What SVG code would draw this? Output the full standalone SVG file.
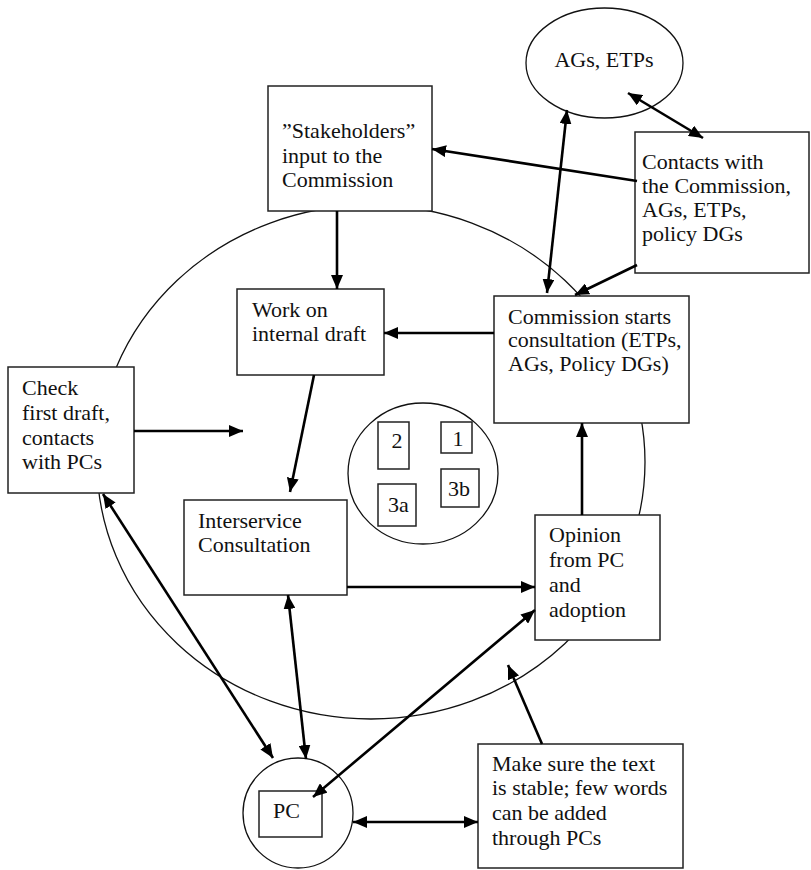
<svg xmlns="http://www.w3.org/2000/svg" width="811" height="870" viewBox="0 0 811 870">
<defs>
<style>
.box{fill:#fff;stroke:#222;stroke-width:1.5}
.ell{fill:none;stroke:#111;stroke-width:1.3}
.ellw{fill:#fff;stroke:#111;stroke-width:1.3}
.t{font-family:"Liberation Serif","Times New Roman",serif;font-size:22px;fill:#111}
.c{fill:none;stroke:#000;stroke-width:2.6}
.e{marker-end:url(#ah)}
.b{marker-start:url(#ah);marker-end:url(#ah)}
</style>
<marker id="ah" markerUnits="userSpaceOnUse" viewBox="0 0 14 12" refX="14" refY="6" markerWidth="14" markerHeight="12" orient="auto-start-reverse">
<path d="M0,0 L14,6 L0,12 Z" fill="#000"/>
</marker>
</defs>
<rect width="811" height="870" fill="#fff"/>
<ellipse id="cycle" class="ell" cx="371" cy="462" rx="274" ry="257"/>
<g id="ags"><ellipse class="ellw" cx="604.5" cy="63" rx="78.5" ry="55"/><text class="t" x="604" y="67" text-anchor="middle">AGs, ETPs</text></g>
<g id="stakeholders"><rect class="box" x="268" y="86" width="164" height="125"/><text class="t" x="282" y="138">”Stakeholders”</text><text class="t" x="282" y="163">input to the</text><text class="t" x="282" y="187">Commission</text></g>
<g id="contacts"><rect class="box" x="635" y="132" width="174" height="141"/><text class="t" x="642" y="169">Contacts with</text><text class="t" x="642" y="193">the Commission,</text><text class="t" x="642" y="217">AGs, ETPs,</text><text class="t" x="642" y="241">policy DGs</text></g>
<g id="work"><rect class="box" x="237" y="289" width="147" height="86"/><text class="t" x="252" y="317">Work on</text><text class="t" x="252" y="341">internal draft</text></g>
<g id="commission"><rect class="box" x="494" y="296" width="195" height="127"/><text class="t" x="508" y="324">Commission starts</text><text class="t" x="508" y="347">consultation (ETPs,</text><text class="t" x="508" y="371">AGs, Policy DGs)</text></g>
<g id="check"><rect class="box" x="8" y="367" width="126" height="126"/><text class="t" x="22" y="395">Check</text><text class="t" x="22" y="420">first draft,</text><text class="t" x="22" y="445">contacts</text><text class="t" x="22" y="469">with PCs</text></g>
<g id="phases"><ellipse class="ellw" cx="423" cy="473.5" rx="75" ry="70.5"/>
<rect class="box" x="378" y="422" width="31" height="47"/><text class="t" x="397" y="448" text-anchor="middle">2</text>
<rect class="box" x="441" y="422" width="31" height="31"/><text class="t" x="458" y="446" text-anchor="middle">1</text>
<rect class="box" x="378" y="484" width="38" height="42"/><text class="t" x="388" y="512">3a</text>
<rect class="box" x="441" y="469" width="38" height="38"/><text class="t" x="448" y="496">3b</text></g>
<g id="interservice"><rect class="box" x="184" y="500" width="163" height="95"/><text class="t" x="198" y="528">Interservice</text><text class="t" x="198" y="552">Consultation</text></g>
<g id="opinion"><rect class="box" x="535" y="515" width="125" height="125"/><text class="t" x="549" y="542">Opinion</text><text class="t" x="549" y="567">from PC</text><text class="t" x="549" y="592">and</text><text class="t" x="549" y="617">adoption</text></g>
<g id="pc"><circle class="ellw" cx="298" cy="813" r="55"/><rect class="box" x="259" y="791" width="63" height="46"/><text class="t" x="273" y="818">PC</text></g>
<g id="makesure"><rect class="box" x="478" y="744" width="205" height="124"/><text class="t" x="492" y="771">Make sure the text</text><text class="t" x="492" y="795">is stable; few words</text><text class="t" x="492" y="820">can be added</text><text class="t" x="492" y="845">through PCs</text></g>
<g id="connectors">
<path class="c e" d="M637,181 L432,149"/>
<path class="c e" d="M337,211 L337,289"/>
<path class="c e" d="M494,333 L384,333"/>
<path class="c b" d="M567,110 L547,293"/>
<path class="c b" d="M628,93 L703,138"/>
<path class="c e" d="M637,265 L575,295"/>
<path class="c e" d="M134,431 L243,431"/>
<path class="c e" d="M314,375 L290,492"/>
<path class="c e" d="M347,587 L535,587"/>
<path class="c e" d="M582,515 L582,423"/>
<path class="c b" d="M103,494 L273,758"/>
<path class="c b" d="M288,595 L306,759"/>
<path class="c b" d="M313,797 L535,610"/>
<path class="c e" d="M542,744 L508,665"/>
<path class="c b" d="M353,822 L478,822"/>
</g>
</svg>
